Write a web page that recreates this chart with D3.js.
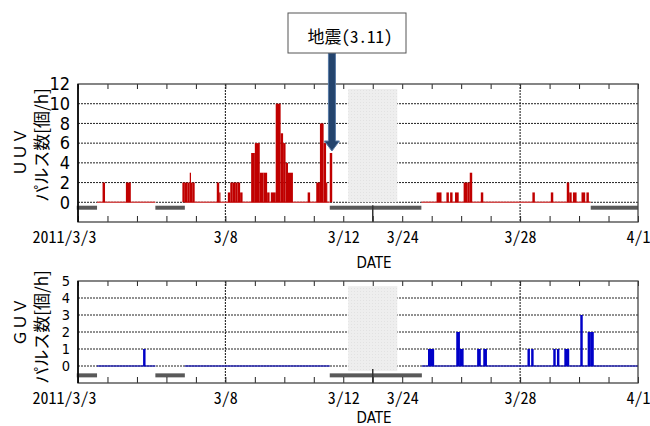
<!DOCTYPE html>
<html>
<head>
<meta charset="utf-8">
<script src="https://cdn.jsdelivr.net/npm/d3@7"></script>
<style>
body { margin: 0; background: #fff; }
svg { display: block; }
</style>
</head>
<body>
<div class="chart"></div>
<script>
// hours are counted from 2011/3/3 00:00 (3/24 00:00 = 504 h)
// bars: [start hour, duration (h), pulses per hour]
var uuv_bars = [
	[20,2,2],[39,4,2],
	[85,2,2],[87,2,2],[89,2,2],[91,1,3],[92,1,2],[93,2,2],
	[113,2,2],[115,1,1],
	[122,2,1],[124,2,2],[126,2,2],[128,2,2],[130,2,2],[132,2,1],
	[141,3,5],[144,4,6],[148,3,3],[151,3,3],[154,2,1],[157,4,1],[161,4,10],[165,2,7],[167,2,6],[169,2,4],[171,4,3],
	[187,2,1],[194,3,2],[197,3,8],[200,2,6],[202,1,2],[205,2,5],
	[532,4,1],[540,2,1],[543,2,1],[547,3,1],[554,3,2],[557,2,2],[559,2,3],[568,2,1],
	[610,2,1],[625,2,1],[638,2,2],[640,2,1],[643,3,1],[650,3,1],[654,2,1]
];
var guv_bars = [
	[53,2,1],
	[525,5,1],[548,3,2],[551,3,1],[565,3,1],[570,3,1],
	[606,2,1],[609,2,1],[627,2,1],[630,2,1],[636,4,1],[649,2,3],[655,2,2],[657,3,2]
];
// periods without data: [from hour, to hour]
var uuv_gaps = [[-1,15.5],[63,87],[205,519.6],[657.5,696]];
var guv_gaps = [[-1,15.5],[63,87],[205,520]];

// axis break: 3/12 .. 3/24 is squeezed
var axis_dates = ["2011-03-03", "2011-03-12", "2011-03-24", "2011-04-01"];
var label_dates = ["2011-03-03", "2011-03-08", "2011-03-12", "2011-03-24", "2011-03-28", "2011-04-01"];
var label_texts = ["2011/3/3", "3/8", "3/12", "3/24", "3/28", "4/1"];
var grid_dates = ["2011-03-08", "2011-03-28"];
var break_date = "2011-03-18";
var shade_dates = ["2011-03-13", "2011-03-23"];
var quake_time = "2011-03-11T14:46";

var uuv_ticks = [0, 2, 4, 6, 8, 10, 12];
var guv_ticks = [0, 1, 2, 3, 4, 5];

var width = 650, height = 426;
var t0 = new Date(2011, 2, 3);
var chart_svg;
var narrow = "'Liberation Sans Narrow', 'DejaVu Sans Condensed', sans-serif";

function parse_day(s) {
	var p = s.split(/[-T:]/).map(Number);
	return new Date(p[0], p[1] - 1, p[2], p[3] || 0, p[4] || 0);
}
function hour_to_date(h) {
	return new Date(t0.getTime() + h * 3600e3);
}

var u = 560 / 19;
var x = d3.scaleTime()
	.domain(axis_dates.map(parse_day))
	.range([78, 78 + 9 * u, 78 + 11 * u, 638]);

function day_ticks() {
	var list = [];
	d3.timeDay.range(parse_day("2011-03-03"), parse_day("2011-03-13")).forEach(function(d) { list.push(d); });
	list.push(parse_day(break_date));
	d3.timeDay.range(parse_day("2011-03-24"), parse_day("2011-04-02")).forEach(function(d) { list.push(d); });
	return list;
}

function draw() {
	chart_svg = d3.select(".chart").append("svg")
		.attr("width", width)
		.attr("height", height);

	// pattern for the grey block
	var pat = chart_svg.append("defs").append("pattern")
		.attr("id", "stip").attr("width", 3).attr("height", 3)
		.attr("patternUnits", "userSpaceOnUse");
	pat.append("rect").attr("width", 3).attr("height", 3).attr("fill", "#eeeeee");
	pat.append("rect").attr("width", 1).attr("height", 1).attr("fill", "#e2e2e2");

	draw_panel({
		top: 84, bottom: 222, domain: [-2, 12], ticks: uuv_ticks, fs: 18,
		bars: uuv_bars, gaps: uuv_gaps, color: "#c00000", line: "#d24a4a",
		shade: [0, 11.5], name: "ＵＵＶ", name_y: 152, unit_y: 145, date_y: 268
	});
	draw_panel({
		top: 281, bottom: 383, domain: [-1, 5], ticks: guv_ticks, fs: 14.5,
		bars: guv_bars, gaps: guv_gaps, color: "#0000c8", line: "#2a2ab0",
		shade: [-0.3, 4.7], name: "ＧＵＶ", name_y: 322, unit_y: 327, date_y: 423
	});
	draw_quake();
}

function draw_panel(c) {
	var g = chart_svg.append("g");
	var y = d3.scaleLinear().domain(c.domain).range([c.bottom, c.top]);
	var x0 = x.range()[0], x1 = x.range()[3];

	// horizontal grid
	g.selectAll(".hg").data(c.ticks.slice(0, -1)).enter().append("line")
		.attr("x1", x0).attr("x2", x1)
		.attr("y1", function(d) { return y(d); })
		.attr("y2", function(d) { return y(d); })
		.attr("stroke", "#222").attr("stroke-width", 1)
		.attr("stroke-dasharray", "2,1");
	// vertical grid
	g.selectAll(".vg").data(grid_dates).enter().append("line")
		.attr("x1", function(d) { return x(parse_day(d)); })
		.attr("x2", function(d) { return x(parse_day(d)); })
		.attr("y1", c.top).attr("y2", c.bottom)
		.attr("stroke", "#111").attr("stroke-width", 1)
		.attr("stroke-dasharray", "2,1");

	// grey block over the break
	g.append("rect")
		.attr("x", x(parse_day(shade_dates[0])))
		.attr("width", x(parse_day(shade_dates[1])) - x(parse_day(shade_dates[0])))
		.attr("y", y(c.shade[1]))
		.attr("height", y(c.shade[0]) - y(c.shade[1]))
		.attr("fill", "url(#stip)");

	// baseline where there is data
	var segs = [];
	var from = 0;
	c.gaps.forEach(function(gp) {
		if (gp[0] > from) segs.push([from, gp[0]]);
		from = gp[1];
	});
	if (from < 696) segs.push([from, 696]);
	g.selectAll(".base").data(segs).enter().append("line")
		.attr("x1", function(d) { return x(hour_to_date(d[0])); })
		.attr("x2", function(d) { return x(hour_to_date(d[1])); })
		.attr("y1", y(0)).attr("y2", y(0))
		.attr("stroke", c.line).attr("stroke-width", 1.5);

	// bars
	g.selectAll(".bar").data(c.bars).enter().append("rect")
		.attr("x", function(d) { return x(hour_to_date(d[0])); })
		.attr("width", function(d) { return x(hour_to_date(d[0] + d[1])) - x(hour_to_date(d[0])); })
		.attr("y", function(d) { return y(d[2]); })
		.attr("height", function(d) { return y(0) - y(d[2]); })
		.attr("fill", c.color);

	// gaps
	g.selectAll(".gap").data(c.gaps).enter().append("rect")
		.attr("x", function(d) { return x(hour_to_date(d[0])); })
		.attr("width", function(d) { return x(hour_to_date(d[1])) - x(hour_to_date(d[0])); })
		.attr("y", y(-0.55) - 2).attr("height", 4)
		.attr("fill", "#595959");

	// ticks
	var days = day_ticks();
	g.append("g").attr("transform", "translate(0," + c.top + ")")
		.call(d3.axisTop(x).tickValues(days).tickSize(-5).tickFormat(""))
		.call(function(a) { a.select(".domain").remove(); a.selectAll("line").attr("stroke", "#222"); });
	g.append("g").attr("transform", "translate(0," + c.bottom + ")")
		.call(d3.axisBottom(x).tickValues(days).tickSize(-6).tickFormat(""))
		.call(function(a) { a.select(".domain").remove(); a.selectAll("line").attr("stroke", "#222"); });
	// long tick at the break
	g.append("line")
		.attr("x1", x(parse_day(break_date))).attr("x2", x(parse_day(break_date)))
		.attr("y1", y(0) + 3).attr("y2", c.bottom)
		.attr("stroke", "#333").attr("stroke-width", 1.5);

	// frame
	g.append("rect").attr("x", x0).attr("y", c.top)
		.attr("width", x1 - x0).attr("height", c.bottom - c.top)
		.attr("fill", "none").attr("stroke", "#444").attr("stroke-width", 1.3);
	g.append("line").attr("x1", x0).attr("x2", x0).attr("y1", c.top).attr("y2", c.bottom)
		.attr("stroke", "#000").attr("stroke-width", 1.6);

	// y labels
	g.append("g").attr("transform", "translate(" + (x0 - 3) + ",0)")
		.call(d3.axisLeft(y).tickValues(c.ticks).tickSize(0).tickPadding(5).tickFormat(d3.format("d")))
		.call(function(a) {
			a.select(".domain").remove();
			a.selectAll("text").attr("font-family", narrow)
				.attr("font-size", c.fs).attr("fill", "#000");
		});

	// x labels
	var lab = g.append("g").attr("transform", "translate(0," + c.bottom + ")")
		.call(d3.axisBottom(x).tickValues(label_dates.map(parse_day)).tickSize(0).tickPadding(7)
			.tickFormat(function(d, i) { return label_texts[i]; }))
		.call(function(a) {
			a.select(".domain").remove();
			a.selectAll("text").attr("font-family", "'Noto Sans Mono CJK JP', 'Liberation Sans Narrow', monospace")
				.attr("font-size", 16).attr("fill", "#000").attr("dy", "0.9em");
		});
	lab.selectAll("text").filter(function(d, i) { return i === 0; })
		.attr("text-anchor", "end").attr("x", 18);

	// titles
	var jp = "'Noto Sans CJK JP', sans-serif";
	g.append("text").attr("transform", "translate(19," + c.name_y + ") rotate(-90)")
		.attr("text-anchor", "middle").attr("dominant-baseline", "central")
		.attr("font-family", jp).attr("font-size", 16).text(c.name);
	g.append("text").attr("transform", "translate(40," + c.unit_y + ") rotate(-90)")
		.attr("text-anchor", "middle").attr("dominant-baseline", "central")
		.attr("font-family", jp).attr("font-size", 17).text("パルス数[個/h]");
	g.append("text").attr("x", 374).attr("y", c.date_y)
		.attr("text-anchor", "middle")
		.attr("font-family", narrow)
		.attr("font-size", 15).text("DATE");
}

function draw_quake() {
	var qx = x(parse_day(quake_time));
	var pts = [[qx - 3.5, 53], [qx + 3.5, 53], [qx + 3.5, 141], [qx + 7.5, 141], [qx, 151], [qx - 7.5, 141], [qx - 3.5, 141]];
	chart_svg.append("path")
		.attr("d", d3.line()(pts) + "Z")
		.attr("fill", "#24446d").attr("stroke", "#587aa5").attr("stroke-width", 1);
	chart_svg.append("rect").attr("x", 288).attr("y", 13).attr("width", 118).attr("height", 40)
		.attr("fill", "#fff").attr("stroke", "#555").attr("stroke-width", 1);
	chart_svg.append("text").attr("x", 350).attr("y", 43)
		.attr("text-anchor", "middle")
		.attr("font-family", "'Noto Sans Mono CJK JP', 'Noto Sans CJK JP', sans-serif")
		.attr("font-size", 17).text("地震(3.11)");
}

draw();
</script>
</body>
</html>
